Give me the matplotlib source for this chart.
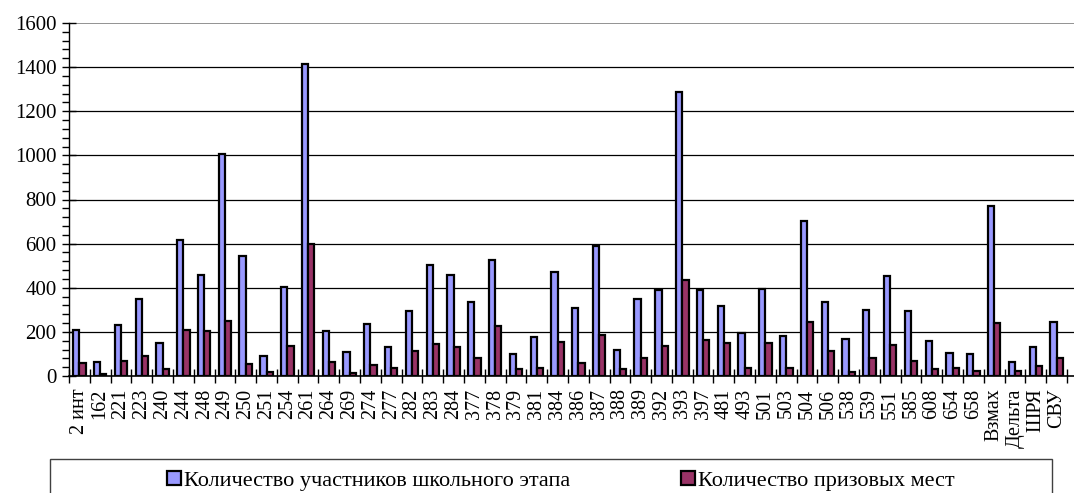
import numpy as np
import matplotlib
matplotlib.use("Agg")
from matplotlib import pyplot as plt
from matplotlib.patches import Rectangle
from matplotlib.ticker import MultipleLocator

plt.rcParams['font.family'] = ['Liberation Serif', 'DejaVu Serif']

# Schools / organisations
categories = ['2 инт', '162', '221', '223', '240', '244', '248', '249', '250', '251',
              '254', '261', '264', '269', '274', '277', '282', '283', '284', '377',
              '378', '379', '381', '384', '386', '387', '388', '389', '392', '393',
              '397', '481', '493', '501', '503', '504', '506', '538', '539', '551',
              '585', '608', '654', '658', 'Взмах', 'Дельта', 'ШРЯ', 'СВУ']

# Количество участников школьного этапа
participants = [208, 62, 231, 349, 148, 616, 456, 1006, 544, 91,
                402, 1414, 203, 109, 236, 133, 293, 503, 456, 334,
                526, 101, 175, 473, 307, 591, 118, 347, 391, 1286,
                391, 319, 195, 394, 181, 703, 334, 168, 299, 453,
                295, 159, 106, 98, 772, 63, 133, 245]

# Количество призовых мест
prizes = [57, 9, 68, 91, 32, 207, 203, 251, 53, 17,
          136, 600, 63, 15, 48, 38, 113, 146, 131, 80,
          225, 33, 38, 156, 59, 184, 30, 82, 136, 437,
          162, 148, 35, 148, 38, 243, 115, 20, 82, 141,
          70, 33, 38, 21, 239, 23, 47, 82]

label_a = 'Количество участников школьного этапа'
label_b = 'Количество призовых мест'

fig = plt.figure(figsize=(10.74, 4.93), dpi=100)
ax = fig.add_axes([69 / 1074, 1 - 376 / 493, 1 - 69 / 1074, (376 - 23) / 493])

x = np.arange(len(categories))
w = 0.3
ax.bar(x - w / 2, participants, w, color='#9999FF', edgecolor='black', linewidth=1.6,
       label=label_a, zorder=3)
ax.bar(x + w / 2, prizes, w, color='#993366', edgecolor='black', linewidth=1.6,
       label=label_b, zorder=3)

ax.set_ylim(0, 1600)
ax.set_xlim(-0.5, len(categories) - 0.5 + 0.34)

# grid
ax.yaxis.set_major_locator(MultipleLocator(200))
ax.yaxis.set_minor_locator(MultipleLocator(40))
for v in range(200, 1600, 200):
    ax.axhline(v, color='black', linewidth=0.9, zorder=1)
ax.axhline(1600, color='#808080', linewidth=1.2, zorder=1)

for s in ['top', 'right']:
    ax.spines[s].set_visible(False)
ax.spines['left'].set_linewidth(1.0)
ax.spines['bottom'].set_linewidth(1.2)

ax.tick_params(axis='y', which='major', direction='inout', length=10, width=1,
               labelsize=15, pad=4)
ax.tick_params(axis='y', which='minor', direction='out', length=5, width=1)

# x ticks at category boundaries, labels at centers
ax.set_xticks(np.arange(len(categories) + 1) - 0.5)
ax.set_xticklabels([])
ax.set_xticks(x, minor=True)
ax.set_xticklabels(categories, minor=True, rotation=90, fontsize=14.5)
ax.tick_params(axis='x', which='major', direction='inout', length=10, width=1)
ax.tick_params(axis='x', which='minor', length=0, pad=9)

# legend box
fig.add_artist(Rectangle((50 / 1074, -0.05), 1002 / 1074, 1 - 459 / 493 + 0.05,
                         transform=fig.transFigure, facecolor='white',
                         edgecolor='#404040', linewidth=1.0))
fig.legend(loc='center', bbox_to_anchor=(561 / 1074, 1 - 481 / 493), ncol=2,
           frameon=False, fontsize=16, handlelength=0.6, handleheight=0.6,
           handletextpad=0.15, columnspacing=5.0)

fig.savefig('out.png', dpi=100)
